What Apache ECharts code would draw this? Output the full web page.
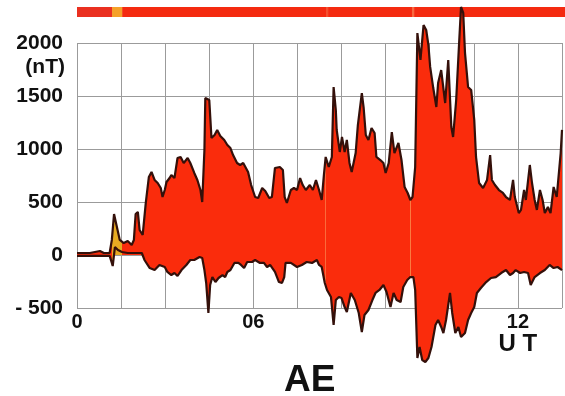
<!DOCTYPE html>
<html>
<head>
<meta charset="utf-8">
<script src="https://cdn.jsdelivr.net/npm/echarts@6/dist/echarts.min.js"></script>
<style>
  html, body { margin: 0; padding: 0; background: #fff; }
  #chart { width: 565px; height: 396px; }
</style>
</head>
<body>
<div id="chart"></div>
<script>
// AU (upper) envelope: universal time in hours, value in nT
const auTime = [2.00, 2.29, 2.52, 2.61, 2.74, 2.79, 2.84, 2.88, 2.93, 2.97, 3.06, 3.15, 3.24, 3.29, 3.33, 3.38, 3.42, 3.49, 3.56, 3.63,
  3.69, 3.76, 3.83, 3.90, 3.94, 3.99, 4.03, 4.10, 4.14, 4.21, 4.28, 4.35, 4.42, 4.51, 4.57, 4.66, 4.73, 4.80, 4.84, 4.89,
  4.91, 5.00, 5.05, 5.12, 5.18, 5.25, 5.34, 5.41, 5.48, 5.54, 5.63, 5.70, 5.77, 5.81, 5.88, 5.95, 6.04, 6.11, 6.20, 6.27,
  6.36, 6.42, 6.49, 6.60, 6.67, 6.71, 6.76, 6.85, 6.92, 6.99, 7.06, 7.12, 7.19, 7.28, 7.35, 7.42, 7.49, 7.55, 7.60, 7.64,
  7.71, 7.78, 7.82, 7.87, 7.89, 7.96, 8.01, 8.07, 8.12, 8.18, 8.23, 8.32, 8.37, 8.46, 8.50, 8.55, 8.61, 8.68, 8.75, 8.79,
  8.88, 8.95, 9.00, 9.07, 9.14, 9.20, 9.29, 9.36, 9.43, 9.50, 9.56, 9.61, 9.67, 9.72, 9.79, 9.86, 9.92, 9.97, 10.01, 10.08,
  10.15, 10.19, 10.26, 10.35, 10.42, 10.49, 10.53, 10.60, 10.67, 10.71, 10.76, 10.80, 10.87, 10.94, 11.01, 11.05, 11.12, 11.21, 11.30, 11.37,
  11.41, 11.48, 11.57, 11.66, 11.73, 11.82, 11.89, 11.93, 12.02, 12.07, 12.14, 12.18, 12.27, 12.32, 12.38, 12.43, 12.50, 12.56, 12.61, 12.68,
  12.74, 12.81, 12.88, 12.97, 13.00];
const auValue = [19, 19, 38, 19, 19, 142, 387, 311, 217, 142, 113, 132, 94, 142, 387, 406, 236, 189, 491, 736,
  783, 708, 679, 632, 547, 613, 689, 726, 755, 726, 915, 925, 868, 915, 868, 774, 708, 613, 500, 991,
  1481, 1462, 1104, 1132, 1179, 1123, 1085, 1038, 1009, 943, 868, 849, 868, 877, 783, 660, 547, 538, 632, 604,
  538, 547, 821, 830, 802, 547, 491, 613, 632, 613, 726, 660, 613, 660, 613, 708, 613, 519, 755, 925,
  830, 925, 1585, 1368, 1179, 972, 1113, 972, 1085, 868, 783, 962, 1226, 1528, 1396, 1132, 1085, 1198, 1151, 925,
  896, 868, 774, 868, 1160, 962, 1057, 896, 642, 585, 519, 547, 830, 2094, 1840, 2170, 2123, 1981, 1774, 1575,
  1396, 1623, 1745, 1434, 1840, 1208, 1113, 1462, 2028, 2340, 2283, 1906, 1585, 1557, 1274, 925, 679, 632, 708, 943,
  708, 660, 613, 585, 547, 519, 708, 547, 396, 425, 613, 519, 849, 679, 519, 425, 613, 519, 396, 453,
  396, 642, 547, 962, 1180];

// AL (lower) envelope
const alTime = [2.00, 2.74, 2.79, 2.81, 2.86, 2.93, 3.02, 3.15, 3.31, 3.47, 3.53, 3.65, 3.76, 3.87, 3.99, 4.05, 4.14, 4.21, 4.28, 4.37,
  4.48, 4.57, 4.66, 4.78, 4.84, 4.89, 4.93, 4.98, 5.02, 5.07, 5.14, 5.21, 5.30, 5.36, 5.41, 5.48, 5.57, 5.66, 5.72, 5.79,
  5.86, 5.97, 6.04, 6.15, 6.24, 6.31, 6.38, 6.49, 6.58, 6.65, 6.70, 6.73, 6.85, 6.99, 7.10, 7.21, 7.33, 7.44, 7.49, 7.55,
  7.62, 7.67, 7.76, 7.82, 7.87, 7.94, 8.00, 8.07, 8.12, 8.21, 8.30, 8.39, 8.46, 8.52, 8.61, 8.70, 8.77, 8.86, 8.95, 9.02,
  9.11, 9.18, 9.25, 9.34, 9.40, 9.49, 9.56, 9.63, 9.67, 9.72, 9.77, 9.83, 9.90, 9.97, 10.04, 10.13, 10.19, 10.26, 10.31, 10.37,
  10.46, 10.51, 10.58, 10.65, 10.71, 10.80, 10.87, 10.94, 11.01, 11.07, 11.16, 11.28, 11.39, 11.50, 11.62, 11.73, 11.82, 11.89, 11.95, 12.05,
  12.14, 12.23, 12.29, 12.38, 12.50, 12.61, 12.72, 12.81, 12.90, 13.00];
const alValue = [-9, -9, -75, -104, 75, 47, 28, 19, 19, 19, -47, -123, -142, -94, -113, -160, -189, -170, -198, -142,
  -94, -47, -47, -19, -28, -142, -264, -547, -283, -208, -255, -217, -189, -208, -160, -142, -75, -75, -94, -123,
  -66, -66, -47, -75, -75, -113, -94, -160, -255, -264, -208, -75, -75, -113, -94, -66, -75, -47, -94, -113,
  -264, -330, -396, -660, -425, -396, -406, -491, -538, -358, -425, -547, -726, -566, -519, -425, -358, -330, -283, -349,
  -491, -358, -425, -443, -302, -236, -208, -208, -330, -972, -868, -991, -1009, -972, -868, -660, -613, -679, -736, -613,
  -358, -547, -736, -679, -774, -736, -613, -547, -491, -358, -311, -255, -217, -208, -170, -142, -189, -170, -142, -170,
  -160, -170, -283, -208, -170, -142, -94, -123, -113, -142];

// Fill colour of the AU/AL band along time (hour ranges)
const fillStart = [2.00, 2.79, 3.02, 7.625, 7.655, 9.545, 9.585];
const fillEnd   = [2.79, 3.02, 7.625, 7.655, 9.545, 9.585, 13.00];
const fillColor = ['#fa2c0c', '#e8aa22', '#fa2c0c', '#fb6a3a', '#fa2c0c', '#fb7a40', '#fa2c0c'];

// Status strip above the plot
const stripStart = [2.00, 2.79, 3.02, 7.62, 7.66, 9.55, 9.60];
const stripEnd   = [2.79, 3.02, 7.62, 7.66, 9.55, 9.60, 13.00];
const stripColor = ['#ea3020', '#f5a128', '#f42a10', '#f4502c', '#f42a10', '#f76a40', '#f42a10'];

// Axis ticks
const xTickValues = [2, 6, 12];
const xTickText = ['0', '06', '12'];
const yTicks = [-500, 0, 500, 1000, 1500, 2000];
const yUnitTick = 2000;
const yUnitText = '(nT)';

const pair = (t, v) => t.map((x, i) => [x, v[i]]);

const chart = echarts.init(document.getElementById('chart'), null, { renderer: 'canvas' });

const gridColor = '#9b9b9b';
const outline = '#34100a';
const fontFamily = 'Liberation Sans, Arial, Helvetica, sans-serif';

const option = {
  backgroundColor: '#ffffff',
  animation: false,
  title: {
    text: 'AE',
    left: 279,
    top: 357,
    textStyle: { fontSize: 37, fontWeight: 'bold', color: '#111', fontFamily: fontFamily }
  },
  grid: [
    { left: 77, right: 1, top: 43, bottom: 88 },
    { left: 77, right: 0, top: 7, height: 10 }
  ],
  xAxis: [
    {
      type: 'value', gridIndex: 0, min: 2, max: 13, interval: 1,
      axisLine: { show: false },
      axisTick: { show: false },
      splitLine: { show: true, lineStyle: { color: gridColor, width: 1 } },
      axisLabel: {
        show: true, margin: 4, color: '#111', fontFamily: fontFamily,
        fontWeight: 'bold', fontSize: 20, showMinLabel: true, showMaxLabel: true,
        formatter: function (v) {
          const i = xTickValues.indexOf(v);
          if (i < 0) return '';
          if (xTickText[i] === '12') return '{a|12}\n{b|U T}';
          return '{a|' + xTickText[i] + '}';
        },
        rich: {
          a: { fontSize: 20, fontWeight: 'bold', lineHeight: 20, color: '#111', fontFamily: fontFamily },
          b: { fontSize: 24, fontWeight: 'bold', lineHeight: 24, color: '#111', fontFamily: fontFamily }
        }
      }
    },
    { type: 'value', gridIndex: 1, min: 2, max: 13, show: false }
  ],
  yAxis: [
    {
      type: 'value', gridIndex: 0, min: -500, max: 2000, interval: 500,
      axisLine: { show: false },
      axisTick: { show: false },
      splitLine: { show: true, lineStyle: { color: gridColor, width: 1 } },
      axisLabel: {
        margin: 14, color: '#111', fontFamily: fontFamily, fontWeight: 'bold', fontSize: 21,
        formatter: function (v) {
          if (yTicks.indexOf(v) < 0) return '';
          return v < 0 ? '- ' + Math.abs(v) : String(v);
        }
      }
    },
    {
      // unit label written under the top tick value
      type: 'value', gridIndex: 0, position: 'left', min: -500, max: 2000, interval: 500,
      axisLine: { show: false },
      axisTick: { show: false },
      splitLine: { show: false },
      axisLabel: {
        margin: 12, color: '#111', fontFamily: fontFamily, fontWeight: 'bold', fontSize: 21,
        verticalAlign: 'top', lineHeight: 21, padding: [14, 0, 0, 0],
        formatter: function (v) { return v === yUnitTick ? yUnitText : ''; }
      }
    },
    { type: 'value', gridIndex: 1, min: 0, max: 1, show: false }
  ],
  visualMap: {
    show: false,
    type: 'piecewise',
    dimension: 0,
    seriesIndex: [0, 1],
    pieces: fillStart.map((s, i) => ({ gte: s, lt: fillEnd[i] + (i === fillStart.length - 1 ? 0.01 : 0), color: fillColor[i] }))
  },
  series: [
    {
      name: 'AU', type: 'line', xAxisIndex: 0, yAxisIndex: 0,
      data: pair(auTime, auValue), showSymbol: false, symbol: 'none', clip: false,
      lineStyle: { color: outline, width: 2.2 },
      areaStyle: { opacity: 1, origin: 'auto' },
      z: 3
    },
    {
      name: 'AL', type: 'line', xAxisIndex: 0, yAxisIndex: 0,
      data: pair(alTime, alValue), showSymbol: false, symbol: 'none', clip: false,
      lineStyle: { color: outline, width: 2.2 },
      areaStyle: { opacity: 1, origin: 'auto' },
      z: 3
    },
    {
      name: 'strip', type: 'custom', xAxisIndex: 1, yAxisIndex: 2,
      encode: { x: [0, 1] },
      data: stripStart.map((s, i) => ({ value: [s, stripEnd[i]], itemStyle: { color: stripColor[i] } })),
      renderItem: function (params, api) {
        const a = api.coord([api.value(0), 1]);
        const b = api.coord([api.value(1), 0]);
        return {
          type: 'rect',
          shape: { x: a[0], y: a[1], width: b[0] - a[0] + 0.5, height: b[1] - a[1] },
          style: { fill: api.visual('color') }
        };
      }
    }
  ]
};

chart.setOption(option);
</script>
</body>
</html>
